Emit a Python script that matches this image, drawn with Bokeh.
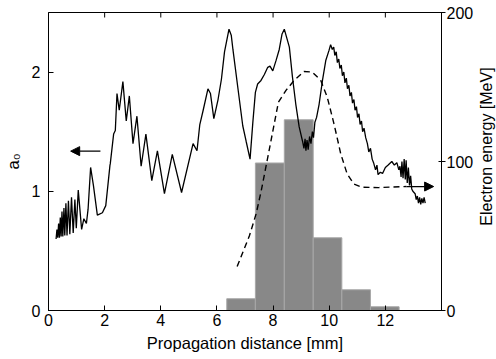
import math
from bokeh.plotting import figure
from bokeh.layouts import row
from bokeh.models import Range1d, LinearAxis, Arrow, NormalHead, FixedTicker, Label
from bokeh.embed import file_html
from bokeh.resources import INLINE

# --- data ---
# a0 (left axis) vs propagation distance [mm]
a0_x = [0.27, 0.30, 0.33, 0.36, 0.39, 0.42, 0.45, 0.48, 0.51, 0.55, 0.58, 0.62, 0.66, 0.71, 0.76,
        0.82, 0.88, 0.94, 0.99, 1.06, 1.18, 1.26, 1.35, 1.41, 1.50, 1.60, 1.74, 1.92, 2.04, 2.12,
        2.19, 2.20, 2.32, 2.38, 2.44, 2.52, 2.65, 2.77, 2.88, 3.01, 3.15, 3.30, 3.47, 3.68, 3.88,
        4.13, 4.41, 4.74, 5.15, 5.29, 5.39, 5.51, 5.68, 5.77, 5.89, 6.04, 6.16, 6.27, 6.43, 6.51,
        6.57, 6.75, 6.92, 7.04, 7.18, 7.28, 7.37, 7.45, 7.57, 7.69, 7.81, 7.89, 7.99, 8.11, 8.22,
        8.32, 8.40, 8.52, 8.58, 8.69, 8.81, 8.93, 9.05, 9.10, 9.14, 9.17, 9.21, 9.25, 9.30, 9.35,
        9.40, 9.44, 9.49, 9.55, 9.64, 9.76, 9.88, 9.99, 10.05, 10.11, 10.16, 10.20, 10.25, 10.29,
        10.34, 10.38, 10.43, 10.47, 10.52, 10.56, 10.61, 10.65, 10.70, 10.74, 10.79, 10.83, 10.88,
        10.92, 10.97, 11.01, 11.06, 11.10, 11.15, 11.19, 11.24, 11.30, 11.36, 11.41, 11.47, 11.53,
        11.58, 11.65, 11.70, 11.74, 11.82, 11.90, 12.00, 12.10, 12.23, 12.32, 12.41, 12.48, 12.52,
        12.56, 12.59, 12.63, 12.67, 12.71, 12.74, 12.78, 12.82, 12.86, 12.90, 12.94, 12.98, 13.02,
        13.06, 13.10, 13.14, 13.18, 13.22, 13.26, 13.30, 13.34, 13.38, 13.42]
a0_y = [0.60, 0.68, 0.61, 0.73, 0.61, 0.78, 0.62, 0.83, 0.62, 0.86, 0.63, 0.90, 0.63, 0.92, 0.64,
        0.95, 0.65, 0.93, 0.69, 1.01, 0.68, 0.77, 0.73, 0.85, 1.20, 1.05, 0.80, 0.82, 0.88, 1.06,
        1.22, 1.23, 1.48, 1.51, 1.82, 1.68, 1.92, 1.59, 1.80, 1.40, 1.63, 1.21, 1.48, 1.09, 1.34,
        0.98, 1.31, 0.99, 1.40, 1.34, 1.56, 1.68, 1.86, 1.82, 1.61, 1.77, 1.94, 2.17, 2.36, 2.31,
        2.19, 1.86, 1.55, 1.42, 1.27, 1.58, 1.83, 1.90, 1.93, 1.98, 2.04, 2.05, 2.01, 2.10, 2.19,
        2.32, 2.36, 2.26, 2.21, 1.96, 1.73, 1.54, 1.42, 1.36, 1.44, 1.34, 1.43, 1.35, 1.46, 1.40,
        1.50, 1.45, 1.58, 1.62, 1.73, 1.93, 2.10, 2.18, 2.23, 2.19, 2.21, 2.14, 2.17, 2.08, 2.11,
        2.03, 2.06, 1.97, 2.00, 1.91, 1.95, 1.86, 1.89, 1.80, 1.83, 1.74, 1.77, 1.68, 1.71, 1.62,
        1.65, 1.56, 1.59, 1.50, 1.53, 1.45, 1.40, 1.33, 1.36, 1.27, 1.24, 1.18, 1.22, 1.14, 1.16,
        1.15, 1.20, 1.22, 1.25, 1.22, 1.24, 1.18, 1.21, 1.12, 1.25, 1.11, 1.27, 1.10, 1.26, 1.07,
        1.20, 1.05, 1.13, 1.02, 1.00, 0.99, 0.98, 0.93, 0.96, 0.90, 0.95, 0.89, 0.94, 0.90, 0.95,
        0.90, 0.94, 0.91, 0.94]

# electron energy [MeV] (right axis) vs propagation distance, dashed curve
en_x = [6.72, 7.16, 7.40, 7.58, 7.87, 8.19, 8.46, 8.75, 9.10, 9.40, 9.70, 9.93, 10.17, 10.41,
        10.64, 10.88, 11.17, 11.76, 12.29, 12.75]
en_y = [29.5, 50.3, 65.1, 80.5, 108.5, 139.8, 147.7, 154.4, 160.4, 160.0, 154.4, 143.2, 125.3,
        105.2, 91.6, 84.9, 82.7, 82.5, 82.9, 83.2]

# histogram (right axis)
bin_left = [6.35, 7.37, 8.40, 9.43, 10.45, 11.47]
bin_right = [7.37, 8.40, 9.43, 10.45, 11.47, 12.49]
bin_height = [7.9, 99.0, 128.0, 48.8, 13.9, 2.5]

# ticks
x_ticks = [0, 2, 4, 6, 8, 10, 12]
a0_ticks = [0, 1, 2]
en_ticks = [0, 100, 200]

# arrows: (x_start, x_end, y)
left_arrow = [1.85, 0.79, 1.337]
right_arrow = [12.75, 13.72, 83.2]

FONT = "Liberation Sans"
FS = "16px"
TITLE_FS = "16.5px"

X0, X1 = 0, 14
Y0, Y1 = 0, 2.5
E0, E1 = 0, 200

H = 358
p = figure(width=476, height=H, x_range=Range1d(X0, X1), y_range=Range1d(Y0, Y1),
           output_backend="svg", toolbar_location=None,
           min_border_left=47, min_border_right=32, min_border_top=12, min_border_bottom=48)
p.extra_y_ranges = {"energy": Range1d(E0, E1)}
p.xgrid.visible = False
p.ygrid.visible = False
p.outline_line_color = "black"
p.outline_line_width = 1
p.background_fill_color = "white"
p.border_fill_color = "white"

def style_axis(ax, tin, tout):
    ax.axis_line_color = "black"
    ax.major_tick_line_color = "black"
    ax.major_tick_in = tin
    ax.major_tick_out = tout
    ax.minor_tick_line_color = None
    ax.major_label_text_font = FONT
    ax.major_label_text_font_size = FS
    ax.major_label_text_color = "black"
    ax.axis_label_text_font = FONT
    ax.axis_label_text_font_size = TITLE_FS
    ax.axis_label_text_font_style = "normal"
    ax.axis_label_text_color = "black"

xa = p.xaxis[0]
xa.ticker = FixedTicker(ticks=x_ticks)
style_axis(xa, 5, 0)
xa.major_label_standoff = 3
xa.axis_label = "Propagation distance [mm]"
xa.axis_label_standoff = 5

ya = p.yaxis[0]
ya.ticker = FixedTicker(ticks=a0_ticks)
style_axis(ya, 5, 0)
ya.major_label_standoff = 8
ya.axis_label = "a\u2080"
ya.axis_label_standoff = 7

ra = LinearAxis(y_range_name="energy", ticker=FixedTicker(ticks=en_ticks))
style_axis(ra, 3, 4)
ra.major_label_standoff = 1
p.add_layout(ra, "right")

# mirrored tick marks on the top edge (pointing inward)
tick_len = (Y1 - Y0) * 5 / 298
p.segment(x0=x_ticks, x1=x_ticks, y0=[Y1] * len(x_ticks), y1=[Y1 - tick_len] * len(x_ticks),
          line_color="black", line_width=1)

p.quad(left=bin_left, right=bin_right, bottom=0, top=bin_height, y_range_name="energy",
       fill_color="#888888", line_color="#a8a8a8", line_width=1)
p.line(en_x, en_y, y_range_name="energy", line_color="black", line_width=1.4, line_dash="6 4")
p.line(a0_x, a0_y, line_color="black", line_width=1.3)

p.add_layout(Arrow(x_start=left_arrow[0], x_end=left_arrow[1], y_start=left_arrow[2], y_end=left_arrow[2],
                   line_color="black", line_width=1.2,
                   end=NormalHead(size=9, fill_color="black", line_color="black")))
p.add_layout(Arrow(x_start=right_arrow[0], x_end=right_arrow[1], y_start=right_arrow[2], y_end=right_arrow[2],
                   y_range_name="energy", line_color="black", line_width=1.2,
                   end=NormalHead(size=9, fill_color="black", line_color="black")))

# narrow companion figure holding the right-axis title (reads bottom to top)
t = figure(width=20, height=H, x_range=Range1d(0, 1), y_range=Range1d(0, H),
           output_backend="svg", toolbar_location=None,
           x_axis_location=None, y_axis_location=None,
           min_border_left=0, min_border_right=0, min_border_top=0, min_border_bottom=0)
t.xgrid.visible = False
t.ygrid.visible = False
t.outline_line_color = None
t.background_fill_color = "white"
t.border_fill_color = "white"
frame_center_from_top = 12 + 298 / 2
t.add_layout(Label(x=0.5, y=H - frame_center_from_top, text="Electron energy [MeV]",
                   angle=math.pi / 2, text_align="center", text_baseline="middle",
                   text_font=FONT, text_font_size="16px", text_color="black"))

layout = row(p, t, spacing=0)
open("out.html", "w").write(file_html(layout, INLINE))
